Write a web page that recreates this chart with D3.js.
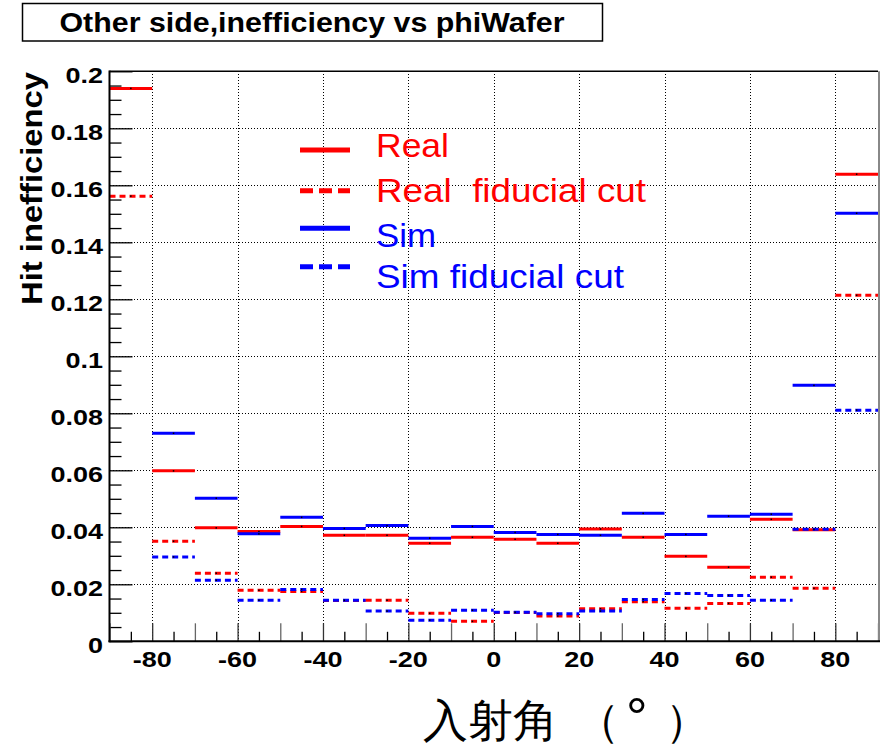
<!DOCTYPE html>
<html>
<head>
<meta charset="utf-8">
<script src="https://cdn.jsdelivr.net/npm/d3@7"></script>
<style>
  html, body { margin: 0; padding: 0; background: #fff; }
  svg { display: block; }
  text { font-family: "Liberation Sans", Arial, Helvetica, sans-serif; }
</style>
</head>
<body>
<script>
// Lower edge of each 10-degree incidence-angle bin
const binLow = [-90, -80, -70, -60, -50, -40, -30, -20, -10, 0, 10, 20, 30, 40, 50, 60, 70, 80];
const binWidth = 10;

// Hit inefficiency per bin
const real       = [0.1940, 0.0598, 0.0398, 0.0385, 0.0403, 0.0372, 0.0372, 0.0344, 0.0365, 0.0358, 0.0344, 0.0394, 0.0365, 0.0298, 0.0260, 0.0428, 0.0391, 0.1639];
const realFid    = [0.1562, 0.0351, 0.0239, 0.0179, 0.0175, 0.0143, 0.0144, 0.0098, 0.0070, 0.0101, 0.0089, 0.0114, 0.0139, 0.0116, 0.0133, 0.0225, 0.0186, 0.1214];
const sim        = [null,   0.0730, 0.0502, 0.0377, 0.0435, 0.0396, 0.0406, 0.0362, 0.0403, 0.0382, 0.0375, 0.0372, 0.0449, 0.0375, 0.0439, 0.0446, 0.0898, 0.1502];
const simFid     = [null,   0.0296, 0.0214, 0.0144, 0.0182, 0.0144, 0.0106, 0.0074, 0.0109, 0.0102, 0.0097, 0.0106, 0.0147, 0.0168, 0.0161, 0.0144, 0.0393, 0.0811];

// Axis ticks and labels
const xLabelTicks = [-80, -60, -40, -20, 0, 20, 40, 60, 80];
const xLabels     = ["-80", "-60", "-40", "-20", "0", "20", "40", "60", "80"];
const xMidTicks   = [-90, -70, -50, -30, -10, 10, 30, 50, 70, 90];
const xMinorTicks = [-85, -75, -65, -55, -45, -35, -25, -15, -5, 5, 15, 25, 35, 45, 55, 65, 75, 85];
const yMajorTicks = [0, 0.02, 0.04, 0.06, 0.08, 0.1, 0.12, 0.14, 0.16, 0.18, 0.2];
const yLabels     = ["0", "0.02", "0.04", "0.06", "0.08", "0.1", "0.12", "0.14", "0.16", "0.18", "0.2"];
const yMinorTicks = [0.005, 0.01, 0.015, 0.025, 0.03, 0.035, 0.045, 0.05, 0.055, 0.065, 0.07, 0.075,
                     0.085, 0.09, 0.095, 0.105, 0.11, 0.115, 0.125, 0.13, 0.135, 0.145, 0.15, 0.155,
                     0.165, 0.17, 0.175, 0.185, 0.19, 0.195];
const xGrid = [-80, -60, -40, -20, 0, 20, 40, 60, 80];
const yGrid = [0.02, 0.04, 0.06, 0.08, 0.1, 0.12, 0.14, 0.16, 0.18];

const titleText = "Other side,inefficiency vs phiWafer";
const yTitle = "Hit inefficiency";

const series = [
  { name: "Real",               values: real,    color: "#ff0000", dashed: false },
  { name: "Real  fiducial cut", values: realFid, color: "#ff0000", dashed: true  },
  { name: "Sim",                values: sim,     color: "#0000ff", dashed: false },
  { name: "Sim fiducial cut",   values: simFid,  color: "#0000ff", dashed: true  }
];

const W = 885, H = 746;
const pLeft = 109.5, pRight = 878, pTop = 71.3, pBottom = 641.3;

const x = d3.scaleLinear().domain([-90, 90]).range([pLeft, pRight]);
const y = d3.scaleLinear().domain([0, 0.2]).range([pBottom, pTop]);

const svg = d3.select("body").append("svg")
  .attr("width", W).attr("height", H)
  .attr("viewBox", `0 0 ${W} ${H}`);

svg.append("rect").attr("width", W).attr("height", H).attr("fill", "#fff");

svg.append("clipPath").attr("id", "plotClip")
  .append("rect").attr("x", pLeft).attr("y", pTop - 2)
  .attr("width", pRight - pLeft).attr("height", pBottom - pTop + 2);

// Dotted grid
const grid = svg.append("g").attr("stroke", "#000").attr("stroke-width", 1)
  .attr("stroke-dasharray", "1,2").attr("shape-rendering", "crispEdges");
grid.selectAll("line.gx").data(xGrid).join("line").attr("class", "gx")
  .attr("x1", d => Math.round(x(d)) + 0.5).attr("x2", d => Math.round(x(d)) + 0.5)
  .attr("y1", pTop).attr("y2", pBottom);
grid.selectAll("line.gy").data(yGrid).join("line").attr("class", "gy")
  .attr("x1", pLeft).attr("x2", pRight)
  .attr("y1", d => Math.round(y(d)) + 0.5).attr("y2", d => Math.round(y(d)) + 0.5);

// Tick marks drawn inward with d3 axes
function tickAxis(axis, transform, color) {
  const g = svg.append("g").attr("transform", transform).call(axis);
  g.select(".domain").remove();
  g.selectAll("line").attr("stroke", color).attr("stroke-width", 1.3);
  g.selectAll("text").remove();
  return g;
}
tickAxis(d3.axisLeft(y).tickValues(yMajorTicks).tickSize(-23).tickSizeOuter(0), `translate(${pLeft},0)`, "#000");
tickAxis(d3.axisLeft(y).tickValues(yMinorTicks).tickSize(-12).tickSizeOuter(0), `translate(${pLeft},0)`, "#000");
tickAxis(d3.axisBottom(x).tickValues(xLabelTicks).tickSize(-18).tickSizeOuter(0), `translate(0,${pBottom})`, "#333");
tickAxis(d3.axisBottom(x).tickValues(xMidTicks).tickSize(-18).tickSizeOuter(0), `translate(0,${pBottom})`, "#666");
tickAxis(d3.axisBottom(x).tickValues(xMinorTicks).tickSize(-9.5).tickSizeOuter(0), `translate(0,${pBottom})`, "#000");

// Histogram steps: one horizontal segment per bin
const plot = svg.append("g").attr("clip-path", "url(#plotClip)");
series.forEach(s => {
  const bins = binLow.map((lo, i) => ({ lo, v: s.values[i] })).filter(d => d.v != null);
  plot.append("g")
    .selectAll("line").data(bins).join("line")
    .attr("x1", d => x(d.lo)).attr("x2", d => x(d.lo + binWidth))
    .attr("y1", d => y(d.v)).attr("y2", d => y(d.v))
    .attr("stroke", s.color).attr("stroke-width", 3)
    .attr("stroke-dasharray", s.dashed ? "6,4" : null);
  plot.append("g")
    .selectAll("rect").data(bins).join("rect")
    .attr("x", d => x(d.lo + binWidth / 2) - 0.75).attr("y", d => y(d.v) - 0.75)
    .attr("width", 1.5).attr("height", 1.5).attr("fill", "#000");
});

// Frame
svg.append("line").attr("x1", pLeft).attr("x2", pRight).attr("y1", pTop).attr("y2", pTop)
  .attr("stroke", "#000").attr("stroke-width", 1.5);
svg.append("line").attr("x1", pRight + 1).attr("x2", pRight + 1).attr("y1", pTop).attr("y2", pBottom)
  .attr("stroke", "#888").attr("stroke-width", 2);
svg.append("line").attr("x1", pLeft).attr("x2", pLeft).attr("y1", pTop - 0.7).attr("y2", pBottom + 1)
  .attr("stroke", "#000").attr("stroke-width", 2);
svg.append("line").attr("x1", pLeft - 1).attr("x2", pRight + 2).attr("y1", pBottom).attr("y2", pBottom)
  .attr("stroke", "#000").attr("stroke-width", 2);

// Tick labels (bold, slightly widened)
const sx = 1.2;
svg.append("g").selectAll("text").data(yMajorTicks).join("text")
  .attr("transform", d => `translate(103,${y(d) + 11.5}) scale(${sx},1)`)
  .attr("text-anchor", "end").attr("font-size", 22.5).attr("font-weight", "bold")
  .attr("fill", "#000")
  .text((d, i) => yLabels[i]);

svg.append("g").selectAll("text").data(xLabelTicks).join("text")
  .attr("transform", d => `translate(${x(d)},667) scale(${sx},1)`)
  .attr("text-anchor", "middle").attr("font-size", 22.5).attr("font-weight", "bold")
  .attr("fill", "#000")
  .text((d, i) => xLabels[i]);

// Y axis title
svg.append("text")
  .attr("transform", "translate(42,188.5) rotate(-90)")
  .attr("text-anchor", "middle").attr("font-size", 29).attr("font-weight", "bold")
  .attr("textLength", 233).attr("lengthAdjust", "spacingAndGlyphs")
  .text(yTitle);

// X axis title
const xt = svg.append("text")
  .attr("font-family", "'Noto Sans CJK JP', 'Noto Sans CJK SC', sans-serif")
  .attr("font-size", 45).attr("fill", "#000").attr("y", 736);
xt.append("tspan").attr("x", 423).text("入射角");
xt.append("tspan").attr("x", 575).text("（");
xt.append("tspan").attr("x", 626).attr("font-size", 54).text("°");
xt.append("tspan").attr("x", 665).attr("font-size", 45).text("）");

// Title box
svg.append("rect").attr("x", 22.5).attr("y", 3.5).attr("width", 580).attr("height", 37.5)
  .attr("fill", "#fff").attr("stroke", "#000").attr("stroke-width", 1.5);
svg.append("text").attr("x", 312).attr("y", 32)
  .attr("text-anchor", "middle").attr("font-size", 27).attr("font-weight", "bold")
  .attr("textLength", 505).attr("lengthAdjust", "spacingAndGlyphs")
  .text(titleText);

// Legend
const legendRows = [
  { y: 150,   ty: 157.3, w: 73 },
  { y: 190.7, ty: 201.7, w: 270 },
  { y: 228.3, ty: 246.7, w: 60 },
  { y: 266.7, ty: 288,   w: 248 }
];
const legend = svg.append("g");
series.forEach((s, i) => {
  const r = legendRows[i];
  legend.append("line").attr("x1", 300).attr("x2", 350).attr("y1", r.y).attr("y2", r.y)
    .attr("stroke", s.color).attr("stroke-width", 5)
    .attr("stroke-dasharray", s.dashed ? "13,6" : null);
  legend.append("text").attr("x", 376).attr("y", r.ty)
    .attr("font-size", 33).attr("fill", s.color)
    .attr("style", "white-space:pre")
    .attr("textLength", r.w).attr("lengthAdjust", "spacingAndGlyphs")
    .text(s.name);
});
</script>
</body>
</html>
